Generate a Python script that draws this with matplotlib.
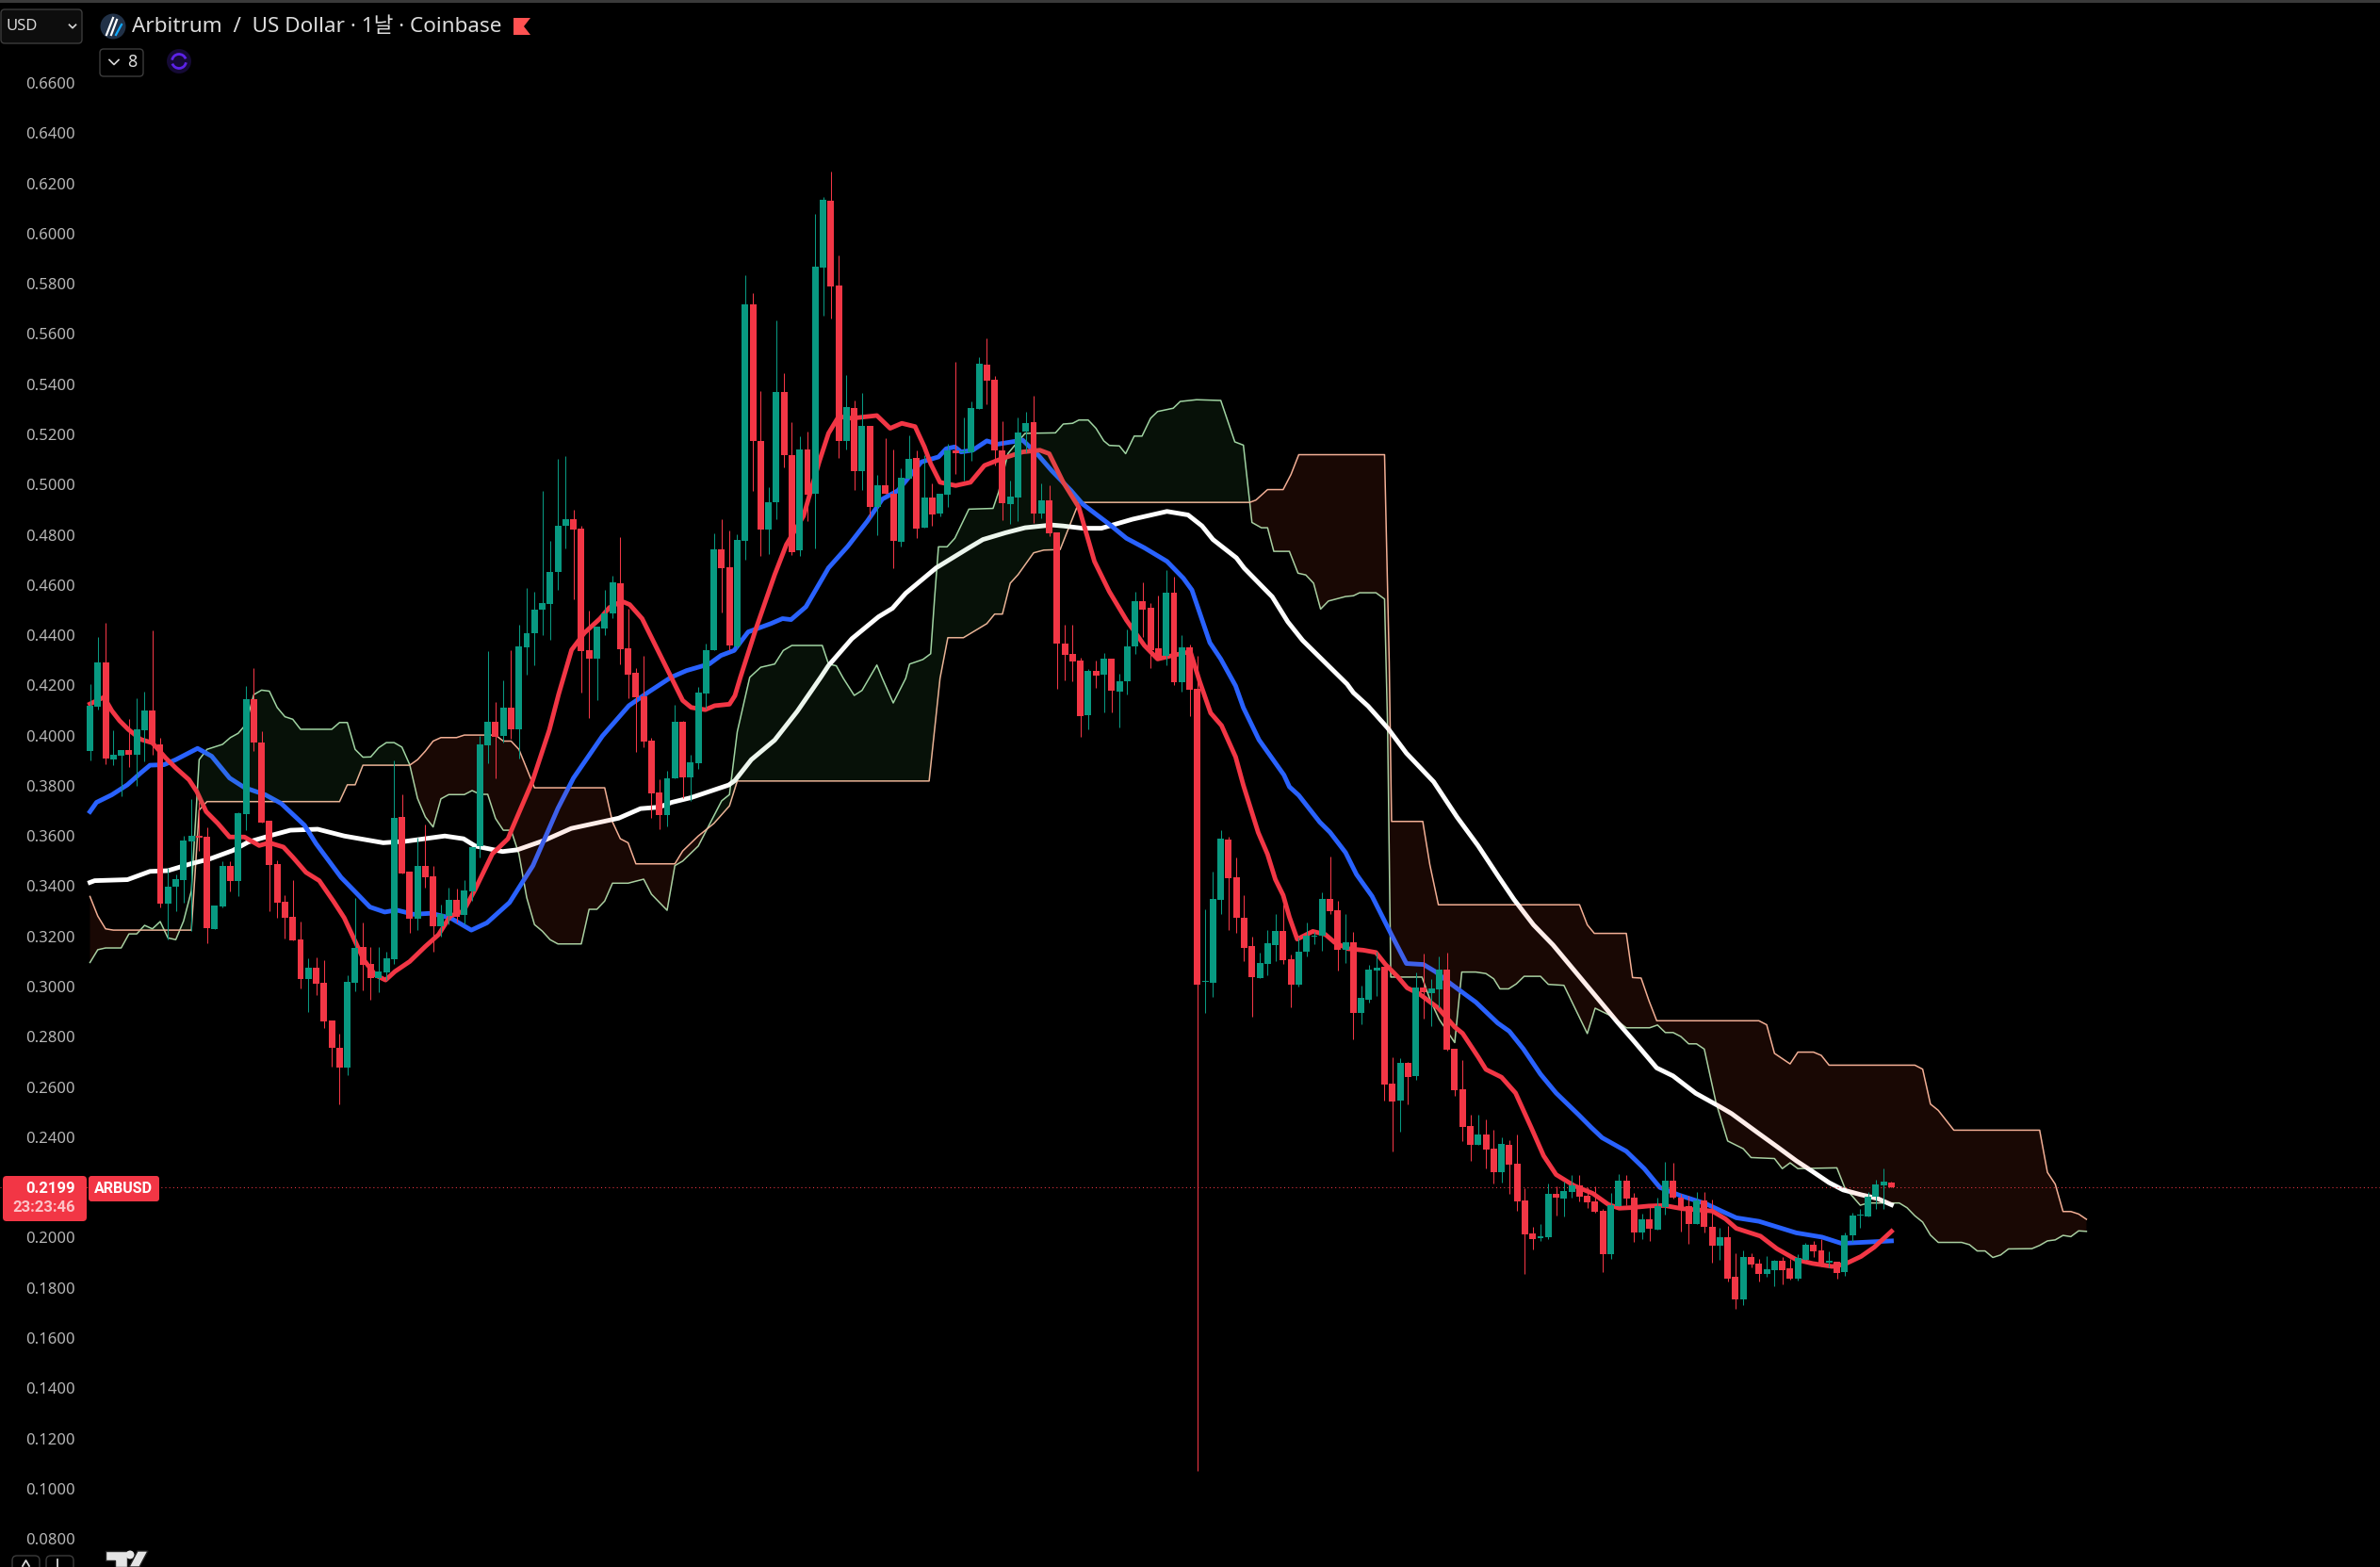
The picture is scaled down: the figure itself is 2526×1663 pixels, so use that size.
import numpy as np
import matplotlib
matplotlib.use("Agg")
import matplotlib.pyplot as plt
from matplotlib.patches import FancyBboxPatch, Circle, Polygon, Arc

# daily candles
opens = [.3938,.4116,.4292,.3904,.3921,.3942,.3923,.4021,.4100,.3965,
         .3332,.3398,.3424,.3579,.3600,.3597,.3230,.3318,.3481,.3420,
         .3687,.4144,.3974,.3660,.3487,.3337,.3278,.3187,.3030,.3074,
         .3015,.2865,.2755,.2677,.3015,.3157,.3090,.3034,.3056,.3109,
         .3675,.3458,.3270,.3481,.3439,.3241,.3281,.3345,.3284,.3379,
         .3560,.3961,.4055,.3999,.4112,.4025,.4352,.4408,.4502,.4525,
         .4652,.4836,.4862,.4825,.4341,.4307,.4427,.4487,.4607,.4348,
         .4251,.4157,.3980,.3774,.3684,.3830,.4055,.3834,.3890,.4168,
         .4341,.4742,.4671,.4356,.4777,.5719,.5174,.4819,.4930,.5369,
         .5118,.4740,.5139,.4965,.5865,.6132,.5794,.5174,.5304,.5055,
         .5233,.4909,.4997,.4964,.4772,.5024,.5106,.4828,.4949,.4885,
         .4960,.5137,.5129,.5129,.5302,.5477,.5418,.5137,.4922,.4949,
         .5211,.5249,.4885,.4937,.4810,.4367,.4325,.4299,.4081,.4258,
         .4243,.4307,.4175,.4216,.4355,.4536,.4509,.4348,.4318,.4569,
         .4213,.4352,.4186,.3019,.3015,.3345,.3586,.3435,.3274,.3161,
         .3034,.3090,.3165,.3222,.3109,.3008,.3139,.3199,.3203,.3349,
         .3304,.3146,.3176,.2895,.2947,.3064,.3079,.2613,.2546,.2696,
         .2643,.2996,.2974,.2989,.3068,.2752,.2591,.2445,.2370,.2411,
         .2355,.2261,.2370,.2295,.2148,.2017,.1998,.2002,.2175,.2156,
         .2182,.2209,.2167,.2145,.2107,.1934,.2126,.2227,.2160,.2021,
         .2073,.2032,.2122,.2227,.2159,.2125,.2054,.2148,.2042,.1967,
         .2001,.1843,.1753,.1922,.1896,.1855,.1870,.1907,.1877,.1836,
         .1911,.1971,.1949,.1902,.1904,.1862,.2009,.2089,.2084,.2163,
         .2208,.2219]
closes = [.4119,.4292,.3910,.3923,.3942,.3923,.4024,.4100,.3967,.3332,
          .3398,.3428,.3581,.3600,.3592,.3233,.3322,.3481,.3420,.3691,
          .4144,.3974,.3655,.3486,.3336,.3274,.3183,.3030,.3074,.3011,
          .2861,.2755,.2677,.3018,.3153,.3086,.3034,.3060,.3112,.3672,
          .3450,.3270,.3481,.3435,.3241,.3288,.3345,.3278,.3383,.3556,
          .3965,.4055,.3995,.4112,.4025,.4356,.4408,.4502,.4528,.4652,
          .4836,.4862,.4821,.4337,.4307,.4434,.4487,.4611,.4344,.4243,
          .4153,.3976,.3770,.3684,.3830,.4055,.3834,.3894,.4172,.4341,
          .4742,.4667,.4359,.4780,.5719,.5172,.4819,.4930,.5369,.5119,
          .4731,.5139,.4960,.5869,.6134,.5790,.5174,.5308,.5055,.5233,
          .4909,.4997,.4964,.4777,.5027,.5102,.4826,.4949,.4881,.4962,
          .5137,.5126,.5134,.5304,.5481,.5414,.5137,.4926,.4952,.5206,
          .5245,.4885,.4937,.4806,.4368,.4322,.4295,.4077,.4258,.4239,
          .4307,.4179,.4216,.4355,.4536,.4502,.4340,.4303,.4569,.4213,
          .4352,.4183,.3008,.3023,.3349,.3589,.3432,.3274,.3154,.3038,
          .3094,.3173,.3222,.3105,.3008,.3139,.3203,.3203,.3349,.3300,
          .3146,.3176,.2895,.2955,.3068,.3075,.2610,.2542,.2696,.2640,
          .2996,.2977,.2992,.3068,.2749,.2587,.2441,.2370,.2411,.2351,
          .2261,.2374,.2291,.2145,.2013,.1994,.2006,.2175,.2160,.2186,
          .2209,.2163,.2141,.2103,.1934,.2130,.2227,.2156,.2021,.2073,
          .2036,.2126,.2227,.2160,.2114,.2054,.2148,.2042,.1967,.2001,
          .1836,.1753,.1922,.1892,.1855,.1874,.1907,.1870,.1836,.1919,
          .1971,.1945,.1892,.1906,.1859,.2009,.2088,.2091,.2163,.2211,
          .2223,.2199]
highs = [.4206,.4394,.4448,.4021,.3942,.4068,.4148,.4175,.4418,.3992,
         .3475,.3448,.3600,.3746,.3737,.3636,.3322,.3498,.3498,.3694,
         .4197,.4268,.4017,.3660,.3502,.3364,.3424,.3261,.3112,.3117,
         .3104,.2865,.2811,.3047,.3352,.3254,.3157,.3157,.3140,.3900,
         .3766,.3458,.3592,.3646,.3482,.3328,.3394,.3391,.3424,.3556,
         .3998,.4337,.4134,.4220,.4341,.4442,.4588,.4573,.4975,.4776,
         .5103,.5114,.4900,.4836,.4498,.4434,.4581,.4637,.4791,.4506,
         .4269,.4318,.3991,.3826,.3859,.4123,.4059,.3924,.4194,.4367,
         .4806,.4862,.4817,.4802,.5834,.5763,.5374,.4989,.5654,.5444,
         .5248,.5193,.5211,.6078,.6146,.6247,.5913,.5438,.5335,.5365,
         .5233,.5039,.5185,.5139,.5063,.5196,.5137,.5117,.5005,.4962,
         .5164,.5488,.5267,.5331,.5508,.5582,.5432,.5251,.5016,.5267,
         .5290,.5354,.5005,.4997,.4810,.4442,.4442,.4309,.4265,.4299,
         .4329,.4307,.4246,.4423,.4573,.4611,.4528,.4558,.4659,.4633,
         .4400,.4363,.4318,.3308,.3458,.3623,.3597,.3514,.3364,.3199,
         .3135,.3225,.3289,.3327,.3128,.3195,.3255,.3218,.3375,.3518,
         .3342,.3289,.3218,.3004,.3086,.3139,.3079,.2718,.2715,.2700,
         .3056,.3131,.3030,.3120,.3135,.2752,.2708,.2490,.2490,.2471,
         .2430,.2400,.2389,.2411,.2197,.2043,.2055,.2216,.2205,.2224,
         .2250,.2250,.2201,.2205,.2115,.2178,.2254,.2250,.2178,.2096,
         .2130,.2160,.2302,.2299,.2174,.2165,.2181,.2181,.2151,.2039,
         .2046,.1937,.1949,.1937,.1915,.1926,.1911,.1922,.1915,.1934,
         .1979,.1986,.1994,.1945,.1904,.2020,.2099,.2114,.2181,.2230,
         .2275,.2223]
lows = [.3902,.4102,.3887,.3882,.3757,.3875,.3800,.3898,.3925,.3317,
        .3187,.3300,.3335,.3220,.3542,.3174,.3230,.3314,.3380,.3361,
        .3623,.3938,.3655,.3301,.3274,.3191,.3183,.2993,.2899,.2966,
        .2836,.2680,.2530,.2648,.2982,.2986,.2948,.2979,.3026,.3089,
        .3450,.3214,.3225,.3395,.3140,.3200,.3247,.3254,.3247,.3341,
        .3515,.3890,.3828,.3971,.3988,.3909,.4243,.4281,.4401,.4382,
        .4581,.4746,.4543,.4172,.4070,.4142,.4401,.4468,.4284,.4149,
        .3935,.3954,.3672,.3627,.3640,.3828,.3751,.3740,.3868,.4108,
        .4341,.4491,.4341,.4346,.4701,.4973,.4717,.4725,.4862,.5070,
        .4721,.4717,.4855,.4744,.5673,.5660,.5107,.5139,.4979,.4979,
        .4869,.4799,.4964,.4665,.4755,.5024,.4788,.4828,.4835,.4875,
        .4909,.5043,.5016,.5093,.5302,.5320,.5076,.4859,.4844,.4855,
        .5129,.4847,.4866,.4794,.4188,.4221,.4218,.3995,.4025,.4190,
        .4093,.4093,.4032,.4164,.4325,.4393,.4269,.4303,.4280,.4201,
        .4175,.4077,.1070,.2895,.2959,.3289,.3225,.3214,.3101,.2880,
        .3034,.3045,.3101,.3090,.2917,.3000,.3120,.3169,.3143,.3289,
        .3064,.3094,.2790,.2850,.2936,.2962,.2546,.2343,.2422,.2531,
        .2628,.2872,.2842,.2917,.2745,.2565,.2385,.2306,.2370,.2276,
        .2216,.2220,.2175,.2107,.1856,.1953,.1987,.1994,.2088,.2085,
        .2160,.2145,.2118,.2100,.1863,.1916,.2126,.2130,.1983,.1994,
        .1987,.2032,.2092,.2156,.2024,.1975,.2054,.2020,.1900,.1911,
        .1825,.1716,.1731,.1881,.1825,.1843,.1806,.1813,.1832,.1828,
        .1911,.1922,.1885,.1881,.1836,.1847,.1982,.2039,.2084,.2115,
        .2115,.2199]

# moving averages: day number and value, read where the line bends
fast_days = [0,1.8,2.8,3.8,4.9,6.5,8,9.7,11,12.7,13.7,14.9,16.4,17.9,19.8,21.7,23,24.8,26,27.7,
             29.4,31.2,32.6,33.9,35.1,36.6,37.9,39.1,41,43,44.7,46.2,47.9,49.4,51.6,53.6,54.1,56.7,58.9,60.1,
             61.75,63.4,65.4,66.6,68.2,69.2,70.8,72.6,74.6,76,77.1,78.9,80.1,82,82.7,83.4,85.4,87.8,89.3,91.5,
             92.3,93.5,94.7,96,97.7,100.9,102.6,104.1,105.8,107,107.8,109,111,112.9,114.7,116.9,119.6,121.8,123,124.8,
             126.8,128.8,130.7,132.9,135.2,136.9,139.1,141.1,142.3,143.7,145.1,146.9,147.9,149.8,151,152,153,153.8,154.8,156.8,
             158.4,159.6,161.3,163.3,164.9,166.1,167.7,168.9,170.5,172.9,175,176,178,179,181,182.8,184.8,186.4,188,190.3,
             192.7,194.7,196.1,197.9,199.9,201.9,204.2,208,209.7,211.1,214.2,216.3,218.8,220.9,223.4,225,227.1,228.8,231]
fast_line = [.4126,.4153,.4099,.4059,.4025,.3985,.3971,.3911,.3871,.3824,.3777,.3697,.3650,.3596,.3596,.3562,.3573,.3556,.3516,.3455,
             .3422,.3341,.3274,.3187,.3107,.3046,.3026,.3060,.3100,.3160,.3207,.3281,.3301,.3388,.3529,.3589,.3627,.3815,.4022,.4165,
             .4341,.4409,.4466,.4510,.4535,.4522,.4466,.4353,.4228,.4140,.4112,.4103,.4119,.4125,.4159,.4232,.4426,.4641,.4761,.4875,
             .4962,.5090,.5204,.5271,.5264,.5275,.5224,.5244,.5231,.5150,.5083,.5009,.4996,.5009,.5076,.5103,.5130,.5137,.5123,.5009,
             .4909,.4694,.4574,.4460,.4359,.4305,.4321,.4334,.4215,.4090,.4040,.3915,.3802,.3614,.3527,.3427,.3364,.3277,.3189,.3220,
             .3208,.3176,.3151,.3145,.3136,.3089,.3039,.2995,.2970,.2914,.2839,.2814,.2720,.2670,.2639,.2576,.2439,.2326,.2251,.2207,
             .2176,.2132,.2117,.2120,.2126,.2128,.2115,.2106,.2075,.2037,.2006,.1956,.1912,.1897,.1885,.1894,.1925,.1962,.2025]

mid_days = [0,.84,2.8,4.8,6.5,7.7,9.5,11,13.8,15.6,17.9,19.8,22.5,24.5,27.5,29,32.2,33.9,35.9,37.8,
            39.3,41.5,43.7,46.2,48.9,50.9,53.8,56.8,58.5,60,62,65.7,69.1,71.6,74.5,76.5,79.4,80.9,82.6,84.4,
            87.3,88.8,89.9,91.8,94.7,97.2,99.7,101.6,103.6,106.6,108.8,109.8,110.9,111.7,113.2,115,116.4,119.6,121.6,123.3,
            125.8,127.3,130.7,132.9,135.2,138.1,140.2,141.3,143.6,145,146.9,147.9,149.9,153.1,153.8,155,157.7,159,161,162.4,
            164.4,166.9,168.8,171,172.5,174.5,177.7,180.5,182,183.8,186,188,190.9,192.5,193.9,197,199.3,201.3,203.8,207.2,
            209.2,211.1,214,218.8,222.1,224.6,227.1,231]
mid_line = [.3697,.3734,.3764,.3804,.3851,.3882,.3884,.3904,.3949,.3918,.3831,.3793,.3764,.3730,.3643,.3569,.3435,.3381,.3317,.3297,
            .3305,.3288,.3292,.3274,.3225,.3254,.3335,.3482,.3603,.3710,.3831,.3998,.4119,.4173,.4232,.4259,.4285,.4319,.4339,.4413,
            .4446,.4466,.4462,.4513,.4668,.4755,.4855,.4942,.4976,.5090,.5110,.5143,.5150,.5130,.5137,.5174,.5161,.5177,.5117,.5056,
            .4976,.4922,.4842,.4786,.4748,.4694,.4627,.4580,.4370,.4305,.4198,.4111,.3983,.3843,.3796,.3762,.3655,.3615,.3534,.3447,
            .3360,.3206,.3092,.3088,.3060,.3011,.2938,.2855,.2822,.2752,.2651,.2576,.2489,.2439,.2398,.2344,.2275,.2200,.2169,.2135,
            .2106,.2079,.2065,.2019,.2002,.1977,.1981,.1987]

slow_days = [0,.6,4.8,7.7,10,12.9,15.4,18.3,20.3,23.3,25.7,29.2,32.6,37.6,40.5,45.5,47.9,49.4,52.9,54.8,
             58.3,61.7,67.8,70.6,73,74.6,77.1,81.9,82.7,84.8,87.8,90.7,93.7,94.7,97.7,101.1,102.9,104.6,108.5,112.7,
             114.5,117.4,119.9,123.3,124.8,127.3,129.7,133.7,138.1,140.8,142.6,144,147,148,151.6,153.6,155.5,161.2,162,163.9,
             166.4,168.8,172.3,175.3,178,180.7,182.6,185.1,187.6,190.5,193,195.9,198,200.9,203,205.9,208.8,210.5,213.8,216.3,
             218.8,220.9,223,224.8,227.1,229.2,231]
slow_line = [.3415,.3422,.3426,.3459,.3462,.3489,.3509,.3542,.3576,.3603,.3623,.3627,.3600,.3573,.3579,.3600,.3589,.3560,.3538,.3545,
             .3583,.3630,.3671,.3709,.3715,.3734,.3753,.3803,.3821,.3904,.3982,.4097,.4232,.4279,.4386,.4473,.4507,.4567,.4668,.4748,
             .4781,.4808,.4828,.4839,.4835,.4826,.4826,.4862,.4893,.4879,.4835,.4781,.4708,.4667,.4553,.4453,.4379,.4205,.4171,.4117,
             .4030,.3930,.3816,.3675,.3561,.3434,.3347,.3246,.3166,.3058,.2965,.2857,.2782,.2676,.2644,.2575,.2525,.2494,.2419,.2363,
             .2306,.2263,.2219,.2190,.2171,.2156,.2131]

# ichimoku cloud edges, drawn 26 days ahead of the last candle
span_a_days = [0,1,2,4,5,6,7,8,9,10,11,12,13,14,15,17,18,19,20,21,22,23,24,25,26,27,31,32,33,34,35,36,37,38,39,40,
               41,42,43,44,45,46,48,49,50,51,52,53,54,55,56,57,58,59,60,63,64,65,66,67,69,71,72,74,75,76,77,78,79,
               81,82,83,84.6,86,87.8,88.9,90,93.9,94.7,95.7,96.6,98,99,100.9,101.6,103,104.6,105.1,106.8,107.8,108.3,108.8,109.9,110.9,112.7,115.8,
               116.5,117.7,118.6,119.9,123.8,124.8,126,126.8,128,129,130,130.7,132,132.8,133.9,134.9,136,136.9,138.9,139.8,141.9,145,146.8,147.9,149,150.2,151,
               151.8,153.8,154.9,155.9,156.9,157.8,158.8,161,162,162.8,164.9,166,166.4,166.8,170.8,171.8,173,175,175.9,177.7,179,180,180.8,181.9,182.9,183.9,186,
               187,189,192,193,195,197,200,201,202,203,204,205,206,207,208.5,210,212,213,216,217,218,219,224,225,227,228,232,233,234,235,236,237,240,
               241,242,243,244,245,246,249,250,251,252,253,254,255,256]
span_a = [.3096,.3147,.3154,.3154,.3210,.3210,.3244,.3230,.3259,.3194,.3187,.3261,.3381,.3904,.3945,.3965,.3992,.4009,.4045,.4163,.4181,.4177,.4112,.4075,.4065,.4025,.4025,.4052,.4052,.3945,.3914,.3915,.3951,.3972,.3972,.3954,
          .3884,.3750,.3676,.3636,.3748,.3765,.3765,.3781,.3766,.3766,.3670,.3623,.3623,.3529,.3355,.3247,.3221,.3187,.3170,.3170,.3308,.3308,.3341,.3412,.3412,.3428,.3368,.3304,.3482,.3500,.3530,.3560,.3620,
          .3740,.3765,.4015,.4232,.4272,.4285,.4339,.4359,.4359,.4285,.4278,.4228,.4160,.4180,.4281,.4228,.4130,.4228,.4285,.4303,.4326,.4547,.4752,.4752,.4786,.4902,.4905,
          .4969,.5123,.5157,.5204,.5206,.5241,.5244,.5257,.5257,.5224,.5174,.5156,.5154,.5123,.5193,.5193,.5264,.5291,.5304,.5331,.5338,.5335,.5170,.5157,.4849,.4828,.4828,
          .4734,.4734,.4647,.4640,.4607,.4504,.4536,.4554,.4557,.4569,.4569,.4544,.4024,.3038,.3038,.2951,.2870,.2777,.3058,.3058,.3052,.3031,.2991,.2991,.3011,.3041,.3041,
          .3009,.3005,.2813,.2914,.2884,.2836,.2836,.2847,.2817,.2817,.2801,.2772,.2772,.2751,.2538,.2385,.2354,.2319,.2315,.2275,.2298,.2275,.2278,.2200,.2129,.2138,.2138,.2119,.2087,.2062,.2010,.1981,.1981,
          .1972,.1947,.1947,.1921,.1931,.1955,.1956,.1969,.1987,.1991,.2009,.2004,.2027,.2025]

span_b_days = [0,1,2,3,13,14,15,32,33,34,35,41,42,43,44,45,47,48,52,53,54,55,57,66,67,68,69,70,75,76,78,80,82,83,107.6,
               109,110,112,115,116,117,118,119,121,122.3,124.4,126.8,148.7,149.5,151,153,154,155,166,166.6,166.9,170.9,171.8,172.9,191,192,192.9,197,197.8,198.9,199.9,200.9,
               214,215,216,218,219,221,222,223,234,235,236,237,239,250,251,252,253,254,255,256]
span_b = [.3359,.3281,.3230,.3225,.3225,.3703,.3737,.3737,.3804,.3804,.3882,.3882,.3904,.3938,.3978,.3992,.3992,.4002,.4002,.3978,.3978,.3945,.3792,.3792,.3656,.3589,.3573,.3489,.3489,.3540,.3600,.3650,.3720,.3819,.3819,
          .4228,.4390,.4390,.4446,.4484,.4484,.4607,.4641,.4728,.4739,.4741,.4929,.4929,.4938,.4980,.4980,.5040,.5119,.5119,.4292,.3658,.3658,.3487,.3326,.3326,.3246,.3212,.3212,.3036,.3034,.2944,.2864,
          .2864,.2848,.2734,.2692,.2739,.2739,.2726,.2687,.2687,.2671,.2532,.2507,.2428,.2428,.2260,.2213,.2104,.2104,.2094,.2073]

tick_values = [.66,.64,.62,.60,.58,.56,.54,.52,.50,.48,.46,.44,.42,.40,.38,.36,.34,.32,.30,.28,.26,.24,.20,.18,.16,.14,.12,.10,.08]
last_price = 0.2199

GREEN = "#089981"
RED = "#f23645"
W, H = 2526, 1663

fig = plt.figure(figsize=(W / 100, H / 100), dpi=100, facecolor="black")
ax = fig.add_axes([0, 0, 1, 1], facecolor="black")
# one candle step is 8.277 px and the first candle sits at x=95.5
ax.set_xlim(-95.5 / 8.277, (W - 95.5) / 8.277)
ax.set_ylim(0.66 - (H - 88) / 2664, 0.66 + 88 / 2664)
for s in ax.spines.values():
    s.set_visible(False)
ax.set_xticks([])
ax.set_yticks(tick_values)
ax.set_yticklabels([f"{v:.4f}" for v in tick_values])
ax.tick_params(axis="y", length=0, pad=-57.6, labelsize=12, labelcolor="#b6b6b6")
for lab in ax.get_yticklabels():
    lab.set_fontfamily("Noto Sans")

# cloud
cloud_x = np.linspace(0, 256, 5121)
a_y = np.interp(cloud_x, span_a_days, span_a)
b_y = np.interp(cloud_x, span_b_days, span_b)
ax.fill_between(cloud_x, a_y, b_y, where=a_y >= b_y, color="#4caf50", alpha=0.1, lw=0, zorder=3)
ax.fill_between(cloud_x, a_y, b_y, where=a_y < b_y, color="#ff5030", alpha=0.1, lw=0, zorder=3)
ax.plot(span_a_days, span_a, color="#a5d6a7", lw=1.1, zorder=1)
ax.plot(span_b_days, span_b, color="#f2b49a", lw=1.1, zorder=1)

# moving averages
ax.plot(slow_days, slow_line, color="white", lw=3.5, zorder=2)
ax.plot(mid_days, mid_line, color="#2962ff", lw=3.5, zorder=2)
ax.plot(fast_days, fast_line, color=RED, lw=3.5, zorder=2)

# candles
days = np.arange(len(opens))
o = np.array(opens)
c = np.array(closes)
colors = [GREEN if cl >= op else RED for op, cl in zip(opens, closes)]
ax.vlines(days, lows, highs, colors=colors, lw=0.75, zorder=4)
ax.bar(days, np.maximum(np.abs(c - o), 0.0004), bottom=np.minimum(o, c), width=0.84,
       color=colors, lw=0, zorder=5)

ax.axhline(last_price, color=RED, lw=0.75, ls=(0, (1, 3)), zorder=3)

# the interface parts, in pixels
ui = fig.add_axes([0, 0, 1, 1], facecolor="none")
ui.set_xlim(0, W)
ui.set_ylim(H, 0)
ui.axis("off")

def box(x0, y0, x1, y1, face, edge="none", r=4, lw=1.0):
    ui.add_patch(FancyBboxPatch((x0 + r, y0 + r), x1 - x0 - 2 * r, y1 - y0 - 2 * r,
                                boxstyle=f"round,pad={r},rounding_size={r}",
                                fc=face, ec=edge, lw=lw))

def chevron(x, y, size, color, lw=1.2):
    ui.plot([x - size, x, x + size], [y - size / 2, y + size / 2, y - size / 2], color=color, lw=lw)

ui.fill_between([0, W], 0, 3, color="#3a3a3a", lw=0)

box(1, 10, 87, 46, "#0d0d0d", "#3c3c3c")
ui.text(7, 28, "USD", color="#d8d8d8", fontsize=12, family="Noto Sans", va="center")
chevron(77, 28, 3.5, "#d8d8d8")

ui.add_patch(Circle((120, 28), 13.5, fc="#213147", ec="none"))
ui.plot([113, 120], [37, 19], color="white", lw=1.6)
ui.plot([118, 124], [37, 21], color="white", lw=1.6)
ui.plot([123, 129], [37, 26], color="#12aaff", lw=1.6)
ui.text(140, 28, "Arbitrum  /  US Dollar · 1날 · Coinbase", color="#dcdcdc", fontsize=16.2,
        family=["Noto Sans", "Noto Sans CJK KR"], va="center")
ui.add_patch(Polygon([(545, 19), (563, 19), (556, 28), (563, 37), (545, 37)], fc="#ff5252", ec="none"))

box(106, 52, 152, 81, "black", "#3c3c3c")
chevron(121, 66, 5, "#d8d8d8")
ui.text(140, 66, "8", color="#dcdcdc", fontsize=13, family="Noto Sans", va="center", ha="center")

ui.add_patch(Circle((190, 65), 13, fc="#150a35", ec="none"))
ui.add_patch(Arc((190, 65), 15, 15, theta1=190, theta2=340, color="#5c22e8", lw=2))
ui.add_patch(Arc((190, 65), 15, 15, theta1=10, theta2=160, color="#5c22e8", lw=2))

box(3, 1248, 92, 1296, RED, r=4)
ui.text(80, 1262, f"{last_price:.4f}", color="white", fontsize=12, family="Roboto", weight="bold",
        ha="right", va="center")
ui.text(80, 1282, "23:23:46", color="#fcc3c8", fontsize=12, family="Roboto", weight="bold",
        ha="right", va="center")
box(94, 1248, 169, 1275, RED, r=3)
ui.text(131.5, 1261.5, "ARBUSD", color="white", fontsize=11.5, family="Roboto", weight="bold",
        ha="center", va="center")

# logo and the two buttons cut off by the bottom edge
ui.add_patch(Polygon([(112, 1646), (135, 1646), (135, 1663), (122, 1663), (122, 1656), (112, 1656)],
                     fc="#e4e4e4", ec="#222222", lw=1))
ui.add_patch(Circle((138, 1650), 4.5, fc="#e4e4e4", ec="none"))
ui.add_patch(Polygon([(146, 1646), (157, 1646), (148, 1663), (137, 1663)], fc="#e4e4e4", ec="#222222", lw=1))
box(13, 1651, 42, 1680, "black", "#3c3c3c", r=5)
box(49, 1651, 78, 1680, "black", "#3c3c3c", r=5)
ui.plot([24, 27.5, 31], [1662, 1656, 1662], color="#d8d8d8", lw=1.3)
ui.plot([60.5, 60.5], [1655, 1663], color="#d8d8d8", lw=1.3)
ui.set_xlim(0, W)
ui.set_ylim(H, 0)

fig.savefig("out.png", dpi=100, facecolor="black")
